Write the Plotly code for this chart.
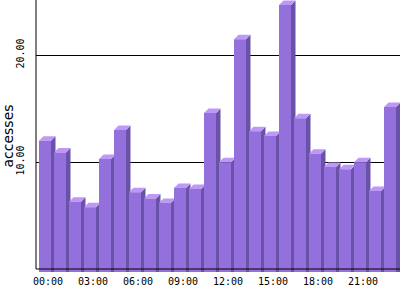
import plotly.graph_objects as go

# ---- data ----
hours = [f"{h:02d}:00" for h in range(24)]
accesses = [12.4, 11.3, 6.7, 6.2, 10.7, 13.4, 7.6, 7.0, 6.6, 8.0, 7.9, 15.0,
            10.4, 21.9, 13.3, 12.85, 25.1, 14.5, 11.2, 9.95, 9.75, 10.4, 7.7, 15.55]
tick_idx = [0, 3, 6, 9, 12, 15, 18, 21]
ytick_vals = [10, 20]
ytick_text = ["10.00", "20.00"]

# ---- 3D bar geometry (data units) ----
HALF = 0.4      # half width of front face
DX = 0.3        # depth offset in x
DY = 0.42       # depth offset in y
BASE = -0.28    # bottom of bars

FRONT = "#9370DB"
SIDE = "#6B52A9"
TOP = "#BE98F6"

fx, fy, sx, sy, tx, ty = [], [], [], [], [], []
for i, v in enumerate(accesses):
    ft = v - DY
    fx += [i - HALF, i + HALF, i + HALF, i - HALF, i - HALF, None]
    fy += [BASE, BASE, ft, ft, BASE, None]
    sx += [i + HALF, i + HALF + DX, i + HALF + DX, i + HALF, i + HALF, None]
    sy += [BASE, BASE, v, ft, BASE, None]
    tx += [i - HALF, i + HALF, i + HALF + DX, i - HALF + DX, i - HALF, None]
    ty += [ft, ft, v, v, ft, None]

fig = go.Figure()
for xs, ys, col in [(sx, sy, SIDE), (tx, ty, TOP), (fx, fy, FRONT)]:
    fig.add_trace(go.Scatter(x=xs, y=ys, mode="lines", fill="toself",
                             fillcolor=col, line=dict(width=0, color=col),
                             hoverinfo="skip", showlegend=False))

YMAX = 269 / 10.7
YMIN = -3 / 10.7

fig.update_layout(
    width=400, height=300,
    margin=dict(l=36, r=0, t=0, b=28),
    paper_bgcolor="white", plot_bgcolor="white",
    showlegend=False,
    xaxis=dict(range=[-0.6, 23.667], tickvals=[i + 0.2 for i in tick_idx],
               ticktext=[hours[i] for i in tick_idx],
               showgrid=False, zeroline=False, showline=False, ticks="",
               tickfont=dict(family="DejaVu Sans Mono", size=10, color="black"),
               ticklabelstandoff=2),
    yaxis=dict(range=[YMIN, YMAX], tickvals=ytick_vals, ticktext=ytick_text,
               tickangle=-90, showgrid=True, gridcolor="black", gridwidth=1,
               zeroline=False, showline=False, ticks="",
               tickfont=dict(family="DejaVu Sans Mono", size=10, color="black"),
               ticklabelstandoff=9,
               title=dict(text="accesses", standoff=4,
                          font=dict(family="DejaVu Sans", size=14, color="black"))),
    shapes=[
        dict(type="line", xref="paper", x0=0, x1=1, yref="y", y0=0, y1=0,
             line=dict(color="black", width=1), layer="above"),
        dict(type="line", xref="paper", x0=0, x1=0, yref="y", y0=0, y1=YMAX,
             line=dict(color="black", width=1), layer="above"),
    ],
)

fig.write_html("out.html")
